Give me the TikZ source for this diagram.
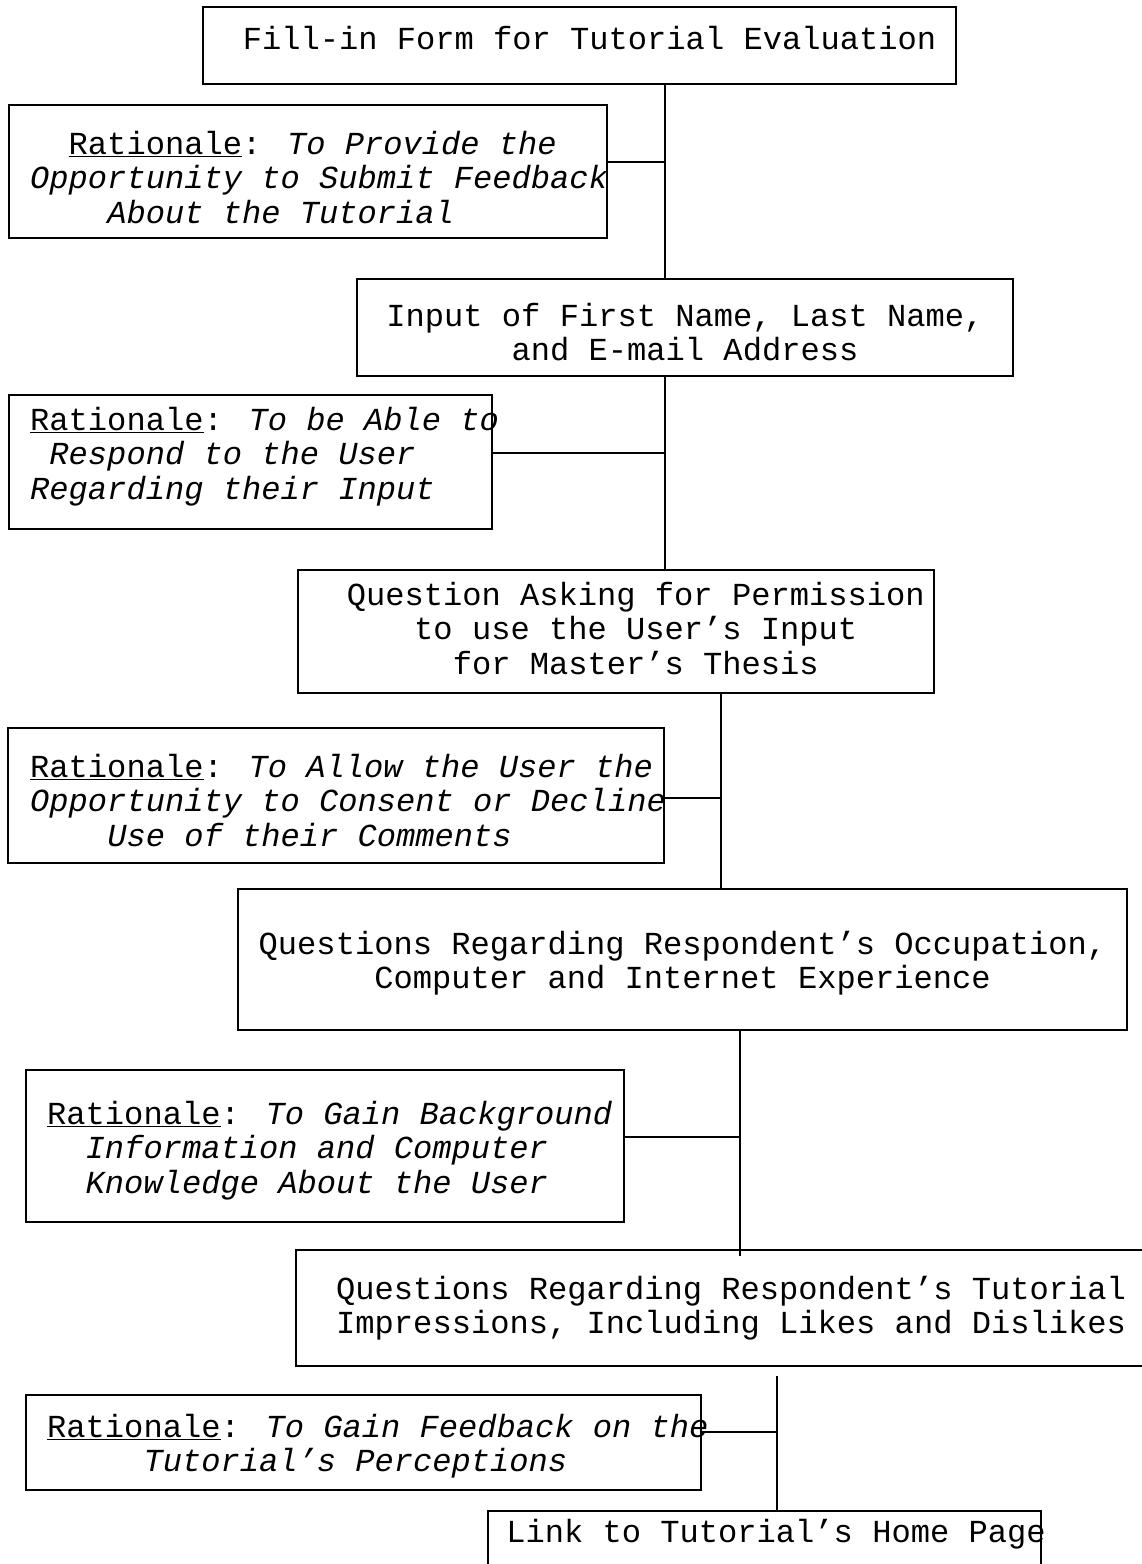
\documentclass[tikz,border=0pt]{standalone}
\usepackage{fontspec}
\newfontfamily\cour{Liberation Mono}
\newcommand{\Rat}{\underline{Rationale}:}
\newcommand{\Top}{\rule{0pt}{25pt}}
\begin{document}
\begin{tikzpicture}[x=1pt,y=-1pt,
  box/.style={draw, line width=2.6pt, inner sep=0pt},
  conn/.style={line width=2.4pt},
  txt/.style={inner sep=0pt, font=\cour\fontsize{32.1}{34.7}\selectfont},
  ctxt/.style={txt, align=center, anchor=north},
  ltxt/.style={txt, align=left, anchor=north west}]
\useasboundingbox[fill=white] (0,0) rectangle (1142,1564);

% boxes
\node[box, minimum width=753pt, minimum height=77pt]  (b1) at (579.5,45.5) {};
\node[box, minimum width=598pt, minimum height=133pt] (r1) at (308,171.5) {};
\node[box, minimum width=656pt, minimum height=97pt]  (b2) at (685,327.5) {};
\node[box, minimum width=483pt, minimum height=134pt] (r2) at (250.5,462) {};
\node[box, minimum width=636pt, minimum height=123pt] (b3) at (616,631.5) {};
\node[box, minimum width=656pt, minimum height=135pt] (r3) at (336,795.5) {};
\node[box, minimum width=889pt, minimum height=141pt] (b4) at (682.5,959.5) {};
\node[box, minimum width=598pt, minimum height=152pt] (r4) at (325,1146) {};
\node[box, minimum width=874pt, minimum height=116pt] (b5) at (733,1308) {};
\node[box, minimum width=675pt, minimum height=95pt]  (r5) at (363.5,1442.5) {};
\node[box, minimum width=553pt, minimum height=89pt]  (b6) at (764.5,1555.5) {};

% texts
\node[ctxt] (t1) at (589.5,24) {\Top Fill-in Form for Tutorial Evaluation};
\node[ctxt] (t2) at (685,301) {\Top Input of First Name, Last Name,\\and E-mail Address};
\node[ctxt] (t3) at (635.75,580) {\Top Question Asking for Permission\\to use the User’s Input\\for Master’s Thesis};
\node[ctxt] (t4) at (682.5,929) {\Top Questions Regarding Respondent’s Occupation,\\Computer and Internet Experience};
\node[ltxt] (t5) at (336,1274) {\Top Questions Regarding Respondent’s Tutorial\\Impressions, Including Likes and Dislikes};
\node[ctxt] (t6) at (776,1517) {\Top Link to Tutorial’s Home Page};

\node[ltxt] (rt1) at (30,129) {\Top\phantom{XX}\Rat{} \textit{To Provide the}\\\textit{Opportunity to Submit Feedback}\\\phantom{XXXX}\textit{About the Tutorial}};
\node[ltxt] (rt2) at (30,405) {\Top\Rat{} \textit{To be Able to}\\\phantom{X}\textit{Respond to the User}\\\textit{Regarding their Input}};
\node[ltxt] (rt3) at (30,752) {\Top\Rat{} \textit{To Allow the User the}\\\textit{Opportunity to Consent or Decline}\\\phantom{XXXX}\textit{Use of their Comments}};
\node[ltxt] (rt4) at (47,1099) {\Top\Rat{} \textit{To Gain Background}\\\phantom{XX}\textit{Information and Computer}\\\phantom{XX}\textit{Knowledge About the User}};
\node[ltxt] (rt5) at (47,1412) {\Top\Rat{} \textit{To Gain Feedback on the}\\\phantom{XXXXX}\textit{Tutorial’s Perceptions}};

% junctions
\coordinate (j1) at (665,162);
\coordinate (j2) at (665,453);
\coordinate (j3) at (721,798);
\coordinate (j4) at (740,1137);
\coordinate (j5) at (777,1432);

% connectors
\draw[conn] (b1.south -| j1) -- (b2.north -| j1);
\draw[conn] (r1.east |- j1) -- (j1);
\draw[conn] (b2.south -| j2) -- (b3.north -| j2);
\draw[conn] (r2.east |- j2) -- (j2);
\draw[conn] (b3.south -| j3) -- (b4.north -| j3);
\draw[conn] (r3.east |- j3) -- (j3);
\draw[conn] (b4.south -| j4) -- ([yshift=-7pt]b5.north -| j4);
\draw[conn] (r4.east |- j4) -- (j4);
\draw[conn] ([yshift=-9pt]b5.south -| j5) -- (b6.north -| j5);
\draw[conn] (r5.east |- j5) -- (j5);
\end{tikzpicture}
\end{document}
